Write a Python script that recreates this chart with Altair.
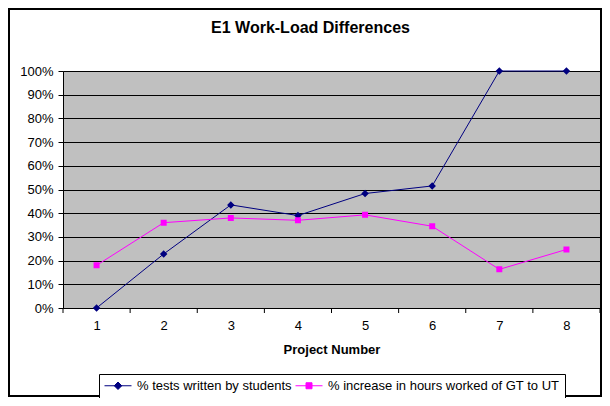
import altair as alt
import pandas as pd

projects = [1, 2, 3, 4, 5, 6, 7, 8]
tests_by_students = [0.0, 0.228, 0.435, 0.39, 0.483, 0.515, 1.0, 1.0]
hours_increase = [0.18, 0.36, 0.38, 0.37, 0.393, 0.345, 0.163, 0.247]
series_names = ["% tests written by students", "% increase in hours worked of GT to UT"]
y_ticks = [i / 10 for i in range(11)]
x_tick_edges = [0.5 + i for i in range(9)]

rows = []
for p, a, b in zip(projects, tests_by_students, hours_increase):
    rows.append({"project": p, "value": a, "series": series_names[0]})
    rows.append({"project": p, "value": b, "series": series_names[1]})
df = pd.DataFrame(rows)
edges = pd.DataFrame({"edge": x_tick_edges})

colors = ["#000080", "#ff00ff"]
shapes = [
    "M-2.7,0H2.7M0,-0.75L0.75,0L0,0.75L-0.75,0Z",
    "M-2.7,0H2.7M-0.6,-0.6H0.6V0.6H-0.6Z",
]

W, H = 537, 237

xscale = alt.Scale(domain=[0.5, 8.5], nice=False, zero=False)
yscale = alt.Scale(domain=[0, 1], nice=False)
cscale = alt.Scale(domain=series_names, range=colors)

X = alt.X("project:Q", scale=xscale,
          axis=alt.Axis(values=projects, format="d", ticks=False, tickSize=0,
                        grid=False, labelPadding=11, title="Project Number",
                        titleFontWeight="bold", titleFontSize=13, titlePadding=11,
                        domainColor="#000000", labelColor="#000000", titleColor="#000000"))
Y = alt.Y("value:Q", scale=yscale,
          axis=alt.Axis(values=y_ticks, format=".0%", title=None, grid=True, labelOverlap=False,
                        gridColor="#000000", gridWidth=1, tickColor="#000000", tickSize=5,
                        domainColor="#000000", labelColor="#000000", labelPadding=5))

legend = alt.Legend(
    orient="none", legendX=36, legendY=303, direction="horizontal", title=None,
    strokeColor="#000000", fillColor="#ffffff", padding=5,
    labelFont="Liberation Sans", labelFontSize=13, labelColor="#000000", labelLimit=400,
    symbolSize=100, symbolStrokeWidth=1, symbolOffset=7.5, labelOffset=12.5,
    columnPadding=1, symbolOpacity=1,
)

base = alt.Chart(df)

lines = base.mark_line(strokeWidth=1).encode(
    x=X, y=Y,
    color=alt.Color("series:N", scale=cscale, legend=legend),
    detail="series:N",
)

points = base.mark_point(filled=True, size=100, strokeWidth=0, opacity=1).encode(
    x=X, y=Y,
    color=alt.Color("series:N", scale=cscale, legend=legend),
    shape=alt.Shape("series:N", scale=alt.Scale(domain=series_names, range=shapes), legend=legend),
)

tickmarks = alt.Chart(edges).mark_rule(color="#000000", strokeWidth=1).encode(
    x=alt.X("edge:Q", scale=xscale),
    y=alt.value(H),
    y2=alt.value(H + 5),
)

frame = alt.Chart(edges).mark_rect(fillOpacity=0, stroke="#000000", strokeWidth=1.5).encode(
    x=alt.value(-54),
    x2=alt.value(W + 1),
    y=alt.value(-62),
    y2=alt.value(H + 88),
)

chart = alt.layer(lines, points, tickmarks, frame).properties(
    width=W,
    height=H,
    title=alt.Title("E1 Work-Load Differences", fontSize=16, fontWeight="bold",
                    font="Liberation Sans", anchor="middle", offset=-28, dx=-21,
                    color="#000000"),
    autosize=alt.AutoSizeParams(type="none"),
    padding={"left": 55, "top": 63, "right": 2, "bottom": 90},
).configure(
    font="Liberation Sans",
).configure_view(
    fill="#c0c0c0", stroke="#808080", strokeWidth=1,
).configure_axis(
    labelFont="Liberation Sans", labelFontSize=13, titleFont="Liberation Sans",
)

chart.save("out.html", embed_options={"renderer": "svg", "actions": False})
